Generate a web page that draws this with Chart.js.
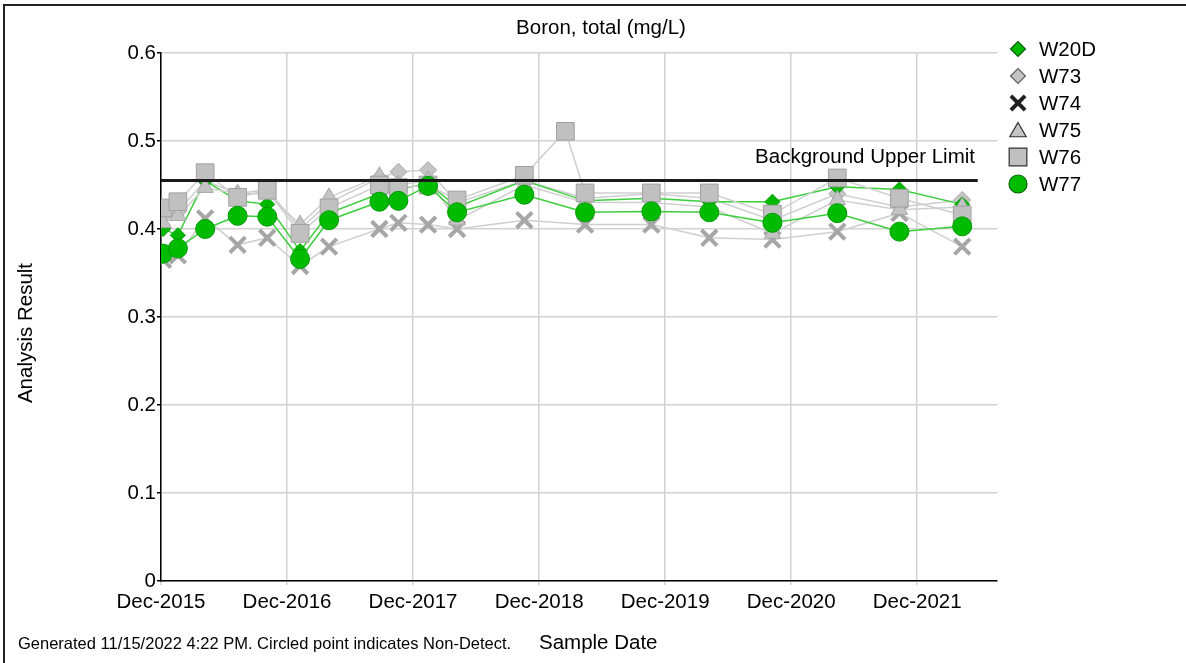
<!DOCTYPE html>
<html>
<head>
<meta charset="utf-8">
<title>Boron, total (mg/L)</title>
<script src="https://cdn.jsdelivr.net/npm/chart.js@4/dist/chart.umd.min.js"></script>
<style>
  html, body { margin: 0; padding: 0; background: #fff; overflow: hidden; }
  #wrap { position: relative; width: 1186px; height: 663px; }
  #frame { position: absolute; left: 3px; top: 4px; width: 1200px; height: 700px;
           border-left: 2px solid #222; border-top: 2px solid #222; }
  canvas { position: absolute; left: 0; top: 0; }
</style>
</head>
<body>
<div id="wrap">
  <div id="frame"></div>
  <canvas id="chart" width="1186" height="663"></canvas>
</div>
<script>
// sample dates (shared by all wells, W76 has one extra sample)
const sampleDates = ['2015-12-07', '2016-01-19', '2016-04-07', '2016-07-10', '2016-10-04',
    '2017-01-07', '2017-04-01', '2017-08-25', '2017-10-19', '2018-01-13', '2018-04-07',
    '2018-10-19', '2019-02-15', '2019-04-13', '2019-10-22', '2020-04-07', '2020-10-07',
    '2021-04-13', '2021-10-10', '2022-04-10'];

const w20d = [0.400, 0.393, 0.455, 0.432, 0.428, 0.375, 0.418, 0.440, 0.445, 0.452, 0.425,
    0.455, null, 0.432, 0.435, 0.431, 0.431, 0.448, 0.445, 0.428];
const w73 = [0.415, 0.420, 0.455, 0.440, 0.445, 0.400, 0.430, 0.458, 0.465, 0.467, 0.430,
    0.455, null, 0.435, 0.440, 0.435, 0.410, 0.440, 0.425, 0.433];
const w74 = [0.365, 0.370, 0.412, 0.382, 0.390, 0.358, 0.380, 0.400, 0.407, 0.405, 0.400,
    0.410, null, 0.405, 0.405, 0.390, 0.388, 0.397, 0.418, 0.380];
const w75 = [0.407, 0.415, 0.447, 0.440, 0.440, 0.405, 0.436, 0.460, 0.450, 0.455, 0.410,
    0.450, null, 0.430, 0.430, 0.425, 0.395, 0.433, 0.422, 0.425];
const w76 = [0.424, 0.431, 0.464, 0.436, 0.444, 0.395, 0.424, 0.450, 0.447, 0.450, 0.433,
    0.461, 0.511, 0.441, 0.441, 0.441, 0.417, 0.458, 0.435, 0.416];
const w77 = [0.372, 0.378, 0.400, 0.415, 0.414, 0.366, 0.410, 0.431, 0.432, 0.449, 0.419,
    0.439, null, 0.419, 0.420, 0.419, 0.407, 0.418, 0.397, 0.403];

const backgroundUpperLimit = 0.455;
const limitDates = ['2015-12-01', '2022-05-25'];

const xTickLabels = ['Dec-2015', 'Dec-2016', 'Dec-2017', 'Dec-2018', 'Dec-2019', 'Dec-2020', 'Dec-2021'];
const yTickLabels = ['0', '0.1', '0.2', '0.3', '0.4', '0.5', '0.6'];

// x axis runs in months since 1 Dec 2015
const ORIGIN = Date.UTC(2015, 11, 1);
const MONTH_MS = 365.25 / 12 * 86400000;
const toMonths = d => (Date.parse(d + 'T00:00:00Z') - ORIGIN) / MONTH_MS;
const X_MAX = 79.6;

const FONT = "'Liberation Sans', Arial, sans-serif";
const GREEN_LINE = '#3ccf3c';
const GREY_LINE = '#cfcfcf';

function points(values) {
    return sampleDates.map((d, i) => ({ x: toMonths(d), y: values[i] }));
}

const wells = [
    { label: 'W20D', data: w20d, line: GREEN_LINE, fill: '#00b800', border: '#00a000',
      style: 'rectRot', radius: 7.5, width: 1, order: 4, legendBorder: '#006400', legendRadius: 7.5 },
    { label: 'W73', data: w73, line: GREY_LINE, fill: '#c4c4c4', border: '#a8a8a8',
      style: 'rectRot', radius: 8.5, width: 1, order: 5, legendBorder: '#606060', legendRadius: 7.5 },
    { label: 'W74', data: w74, line: GREY_LINE, fill: '#a6a6a6', border: '#a6a6a6',
      style: 'crossRot', radius: 11, width: 4, order: 3, legendBorder: '#202020', legendRadius: 10 },
    { label: 'W75', data: w75, line: GREY_LINE, fill: '#c4c4c4', border: '#a8a8a8',
      style: 'triangle', radius: 9.5, width: 1, order: 2, legendBorder: '#303030', legendRadius: 9.5 },
    { label: 'W76', data: w76, line: GREY_LINE, fill: '#c0c0c0', border: '#a0a0a0',
      style: 'rect', radius: 12.5, width: 1, order: 1, legendBorder: '#303030', legendRadius: 12.5 },
    { label: 'W77', data: w77, line: GREEN_LINE, fill: '#00bb00', border: '#009a00',
      style: 'circle', radius: 9.5, width: 1, order: 0, legendBorder: '#006400', legendRadius: 9 }
];

const datasets = wells.map(w => ({
    label: w.label,
    data: points(w.data),
    borderColor: w.line,
    borderWidth: 1.5,
    pointStyle: w.style,
    pointRadius: w.radius,
    pointBackgroundColor: w.fill,
    pointBorderColor: w.border,
    pointBorderWidth: w.width,
    spanGaps: true,
    order: w.order
}));

datasets.push({
    label: 'Background Upper Limit',
    data: limitDates.map(d => ({ x: toMonths(d), y: backgroundUpperLimit })),
    borderColor: '#1a1a1a',
    borderWidth: 3,
    pointRadius: 0,
    order: -1
});

// texts, legend and limit label
const decorations = {
    id: 'decorations',
    afterDraw(chart) {
        const ctx = chart.ctx;
        const y = chart.scales.y;
        ctx.save();
        ctx.fillStyle = '#000';

        ctx.font = '20.5px ' + FONT;
        ctx.textAlign = 'center';
        ctx.textBaseline = 'middle';
        ctx.fillText('Boron, total (mg/L)', 601, 28);

        ctx.textAlign = 'right';
        ctx.fillText('Background Upper Limit', 975, y.getPixelForValue(backgroundUpperLimit) - 23);

        ctx.textAlign = 'left';
        ctx.fillText('Sample Date', 539, 643);
        ctx.font = '16.5px ' + FONT;
        ctx.fillText('Generated 11/15/2022 4:22 PM. Circled point indicates Non-Detect.', 18, 644);

        ctx.save();
        ctx.translate(26, 333);
        ctx.rotate(-Math.PI / 2);
        ctx.textAlign = 'center';
        ctx.font = '20.5px ' + FONT;
        ctx.fillText('Analysis Result', 0, 0);
        ctx.restore();

        // legend
        wells.forEach((w, i) => {
            const ly = 49 + i * 27;
            ctx.fillStyle = w.fill;
            ctx.strokeStyle = w.legendBorder;
            ctx.lineWidth = w.style === 'crossRot' ? 4 : 1.2;
            Chart.helpers.drawPoint(ctx, {
                pointStyle: w.style,
                radius: w.legendRadius,
                rotation: 0,
                borderWidth: ctx.lineWidth
            }, 1018, w.style === 'triangle' ? ly + 2 : ly);
            ctx.fillStyle = '#000';
            ctx.font = '20.5px ' + FONT;
            ctx.textAlign = 'left';
            ctx.fillText(w.label, 1039, ly + 1);
        });
        ctx.restore();
    }
};

new Chart(document.getElementById('chart'), {
    type: 'line',
    data: { datasets: datasets },
    options: {
        responsive: false,
        animation: false,
        layout: { padding: { top: 53, right: 189, left: 0, bottom: 0 } },
        plugins: {
            legend: { display: false },
            tooltip: { enabled: false }
        },
        scales: {
            x: {
                type: 'linear',
                min: 0,
                max: X_MAX,
                afterFit: scale => { scale.height = 82; },
                afterBuildTicks: scale => {
                    scale.ticks = xTickLabels.map((t, i) => ({ value: i * 12 }));
                },
                ticks: {
                    autoSkip: false,
                    maxRotation: 0,
                    padding: 5,
                    color: '#000',
                    font: { family: FONT, size: 20.5 },
                    callback: (v, i) => xTickLabels[i]
                },
                grid: { color: '#d2d2d2', lineWidth: 1.5, tickLength: 4, tickColor: '#d2d2d2' },
                border: { display: true, color: '#000', width: 1.5 }
            },
            y: {
                min: 0,
                max: 0.6,
                afterFit: scale => { scale.width = 161; },
                afterBuildTicks: scale => {
                    scale.ticks = yTickLabels.map(t => ({ value: parseFloat(t) }));
                },
                ticks: {
                    padding: 1,
                    color: '#000',
                    font: { family: FONT, size: 20.5 },
                    callback: (v, i) => yTickLabels[i]
                },
                grid: { color: '#d2d2d2', lineWidth: 1.5, tickLength: 4, tickColor: '#000' },
                border: { display: true, color: '#000', width: 1.5 }
            }
        }
    },
    plugins: [decorations]
});
</script>
</body>
</html>
